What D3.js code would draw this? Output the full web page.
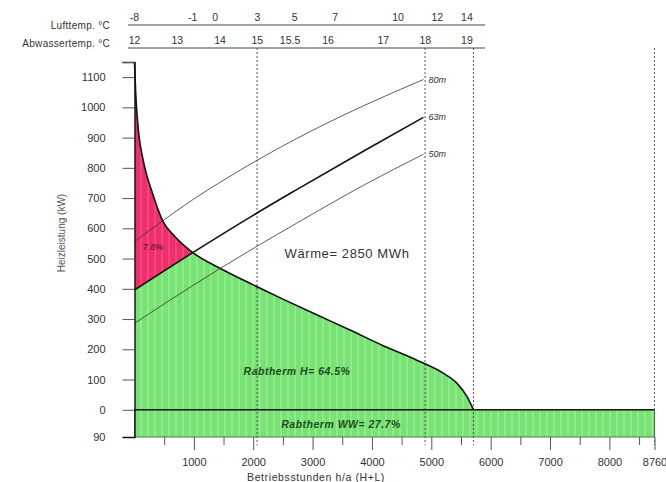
<!DOCTYPE html>
<html>
<head>
<meta charset="utf-8">
<script src="https://cdn.jsdelivr.net/npm/d3@7"></script>
<style>
  body { margin: 0; background: #fff; }
  text { font-family: "Liberation Sans", Arial, sans-serif; }
</style>
</head>
<body>
<div id="svgWrapper"></div>
<script>
var fullWidth = 666;
var fullHeight = 482;

// Jahresdauerlinie Heizleistung
var hours = [0, 20, 60, 145, 213, 303, 398, 482, 680, 960, 1440, 2000, 2500, 3070, 3630, 4190, 4755, 5200, 5430, 5600, 5710];
var heizleistung = [1150, 1048, 936, 826, 771, 716, 661, 622, 573, 523, 468, 413, 366, 314, 264, 212, 164, 121, 88, 44, 0];

// Leistungslinien nach Kanallaenge
var lineHours = [0, 1000, 2057, 2732, 3855, 4867];
var line80m = [556, 697, 824, 897, 1005, 1092];
var line63m = [396, 522, 650, 728, 855, 967];
var line50m = [286, 413, 540, 617, 742, 845];
var lineNames = ["80m", "63m", "50m"];

var wwBand = -90; // Warmwasser (kW, unter 0 aufgetragen)
var yearHours = 8760;

var luftTemp = ["-8", "-1", "0", "3", "5", "7", "10", "12", "14"];
var luftHours = [0, 980, 1360, 2070, 2700, 3380, 4440, 5100, 5600];
var abwTemp = ["12", "13", "14", "15", "15.5", "16", "17", "18", "19"];
var abwHours = [0, 720, 1440, 2070, 2620, 3260, 4190, 4900, 5600];

var dashHours = [2065, 4895, 5710, 8760];
var yTicks = [-90, 0, 100, 200, 300, 400, 500, 600, 700, 800, 900, 1000, 1100, 1150];
var xMajor = [1000, 2000, 3000, 4000, 5000, 6000, 7000, 8000, 8760];
var xMinor = [500, 1500, 2500, 3500, 4500, 5500, 6500, 7500, 8500];

var svg = d3.select("#svgWrapper")
  .append("svg")
  .attr("width", fullWidth)
  .attr("height", fullHeight);

var xScale = d3.scaleLinear().domain([0, yearHours]).range([134.5, 654.5]);
var yScale = d3.scaleLinear().domain([wwBand, 1150]).range([437, 62]);

var curveData = hours.map(function(h, i) { return [h, heizleistung[i]]; });
function lineData(vals) { return lineHours.map(function(h, i) { return [h, vals[i]]; }); }

// stripe patterns like the coloured scan
var defs = svg.append("defs");
var gp = defs.append("pattern").attr("id", "greenStripes")
  .attr("patternUnits", "userSpaceOnUse").attr("width", 7).attr("height", 10);
gp.append("rect").attr("width", 7).attr("height", 10).attr("fill", "#78e275");
gp.append("rect").attr("width", 2).attr("height", 10).attr("fill", "#8fea8b");
var rp = defs.append("pattern").attr("id", "redStripes")
  .attr("patternUnits", "userSpaceOnUse").attr("width", 7).attr("height", 10);
rp.append("rect").attr("width", 7).attr("height", 10).attr("fill", "#ee2f6c");
rp.append("rect").attr("width", 2).attr("height", 10).attr("fill", "#f2467c");

// clip regions below / above the 63m line
var l63 = lineData(line63m);
var last = l63[l63.length - 1];
var below = l63.map(function(d) { return [xScale(d[0]), yScale(d[1])]; });
below.push([xScale(yearHours), yScale(1150)], [xScale(yearHours), yScale(wwBand)], [xScale(0), yScale(wwBand)]);
var above = l63.map(function(d) { return [xScale(d[0]), yScale(d[1])]; });
above.push([xScale(last[0]), 0], [xScale(0), 0]);
defs.append("clipPath").attr("id", "clipBelow").append("path").attr("d", "M" + below.join("L") + "Z");
defs.append("clipPath").attr("id", "clipAbove").append("path").attr("d", "M" + above.join("L") + "Z");

var area = d3.area()
  .x(function(d) { return xScale(d[0]); })
  .y0(yScale(0))
  .y1(function(d) { return yScale(d[1]); })
  .curve(d3.curveMonotoneX);

svg.append("path").attr("d", area(curveData))
  .attr("fill", "url(#greenStripes)").attr("clip-path", "url(#clipBelow)");
svg.append("path").attr("d", area(curveData))
  .attr("fill", "url(#redStripes)").attr("clip-path", "url(#clipAbove)");

// Warmwasser band
svg.append("rect")
  .attr("x", xScale(0)).attr("y", yScale(0))
  .attr("width", xScale(yearHours) - xScale(0))
  .attr("height", yScale(wwBand) - yScale(0))
  .attr("fill", "url(#greenStripes)")
  .attr("stroke", "#2f6a2f").attr("stroke-width", 0.8);

// dashed verticals
svg.selectAll("line.dash")
  .data(dashHours)
  .enter().append("line")
  .attr("class", "dash")
  .attr("x1", function(d) { return xScale(d); }).attr("x2", function(d) { return xScale(d); })
  .attr("y1", 48).attr("y2", 445)
  .attr("stroke", "#555").attr("stroke-width", 1).attr("stroke-dasharray", "2,2");

// zero line
svg.append("line")
  .attr("x1", xScale(0)).attr("x2", xScale(yearHours))
  .attr("y1", yScale(0)).attr("y2", yScale(0))
  .attr("stroke", "#1a1a1a").attr("stroke-width", 1.6);

var line = d3.line()
  .x(function(d) { return xScale(d[0]); })
  .y(function(d) { return yScale(d[1]); })
  .curve(d3.curveMonotoneX);

svg.append("path").attr("d", line(curveData))
  .attr("fill", "none").attr("stroke", "#111").attr("stroke-width", 1.6);

var lines = [line80m, line63m, line50m];
svg.selectAll("path.kanal")
  .data(lines)
  .enter().append("path")
  .attr("class", "kanal")
  .attr("d", function(d) { return line(lineData(d)); })
  .attr("fill", "none")
  .attr("stroke", function(d, i) { return i == 1 ? "#111" : "#333"; })
  .attr("stroke-width", function(d, i) { return i == 1 ? 1.6 : 0.8; });

svg.selectAll("text.kanal")
  .data(lines)
  .enter().append("text")
  .attr("class", "kanal")
  .attr("x", xScale(lineHours[lineHours.length - 1]) + 5)
  .attr("y", function(d) { return yScale(d[d.length - 1]) + 3; })
  .style("font-size", "9px").style("font-style", "italic").style("fill", "#333")
  .text(function(d, i) { return lineNames[i]; });

// axes
var yAxis = svg.append("g")
  .attr("transform", "translate(" + xScale(0) + ",0)")
  .call(d3.axisLeft(yScale).tickValues(yTicks).tickSize(12).tickPadding(17)
    .tickFormat(function(d) { return d == 1150 ? "" : Math.abs(d); }));
yAxis.selectAll(".tick").filter(function(d) { return d == wwBand; }).select("line").remove();
yAxis.select(".domain").attr("stroke", "#111").attr("stroke-width", 1.4);
yAxis.selectAll(".tick line").attr("stroke", "#555");
yAxis.selectAll("text").style("font-size", "11px").style("fill", "#333").style("font-family", "Liberation Sans, Arial, sans-serif");

var xMinorAxis = svg.append("g")
  .attr("transform", "translate(0," + yScale(wwBand) + ")")
  .call(d3.axisBottom(xScale).tickValues(xMinor).tickSize(8).tickFormat(""));
xMinorAxis.select(".domain").remove();
xMinorAxis.selectAll(".tick line").attr("stroke", "#555");

var xAxis = svg.append("g")
  .attr("transform", "translate(0," + yScale(wwBand) + ")")
  .call(d3.axisBottom(xScale).tickValues(xMajor).tickSize(13).tickPadding(8).tickFormat(d3.format("d")));
xAxis.select(".domain").remove();
xAxis.selectAll(".tick line").attr("stroke", "#555");
xAxis.selectAll("text").style("font-size", "11px").style("fill", "#333").style("font-family", "Liberation Sans, Arial, sans-serif");

// temperature scales on top
var topRows = [[luftHours, luftTemp, 25, "Lufttemp. °C"], [abwHours, abwTemp, 48, "Abwassertemp. °C"]];
topRows.forEach(function(row) {
  svg.append("line").attr("x1", 128).attr("x2", 485).attr("y1", row[2]).attr("y2", row[2])
    .attr("stroke", "#444").attr("stroke-width", 1);
  svg.selectAll(null).data(row[0]).enter().append("text")
    .attr("x", function(d) { return xScale(d); })
    .attr("y", row[2] - 4)
    .style("text-anchor", "middle").style("font-size", "10.5px").style("fill", "#333")
    .text(function(d, i) { return row[1][i]; });
  svg.append("text")
    .attr("x", 110).attr("y", row[2] - (row[2] == 25 ? -4 : 1))
    .style("text-anchor", "end").style("font-size", "10px").style("fill", "#333")
    .style("letter-spacing", "0.3px")
    .text(row[3]);
});

// labels
svg.append("text")
  .style("text-anchor", "middle").style("font-size", "10px").style("fill", "#555")
  .attr("transform", "translate(65,233) rotate(-90)")
  .text("Heizleistung (kW)");

svg.append("text")
  .attr("x", 316).attr("y", 481)
  .style("text-anchor", "middle").style("font-size", "10.5px").style("fill", "#333")
  .style("letter-spacing", "0.6px")
  .text("Betriebsstunden h/a (H+L)");

svg.append("text")
  .attr("x", 347).attr("y", 258)
  .style("text-anchor", "middle").style("font-size", "13px").style("fill", "#333")
  .style("letter-spacing", "0.6px")
  .text("Wärme= 2850 MWh");

svg.append("text")
  .attr("x", 297).attr("y", 375)
  .style("text-anchor", "middle").style("font-size", "10.5px").style("font-style", "italic")
  .style("font-weight", "bold").style("fill", "#1f4d1f").style("letter-spacing", "0.5px")
  .text("Rabtherm H= 64.5%");

svg.append("text")
  .attr("x", 341).attr("y", 428)
  .style("text-anchor", "middle").style("font-size", "10.5px").style("font-style", "italic")
  .style("font-weight", "bold").style("fill", "#1f4d1f").style("letter-spacing", "0.5px")
  .text("Rabtherm WW= 27.7%");

svg.append("text")
  .attr("x", 153).attr("y", 250)
  .style("text-anchor", "middle").style("font-size", "9px").style("font-style", "italic")
  .style("fill", "#5a0f25")
  .text("7.8%");
</script>
</body>
</html>
